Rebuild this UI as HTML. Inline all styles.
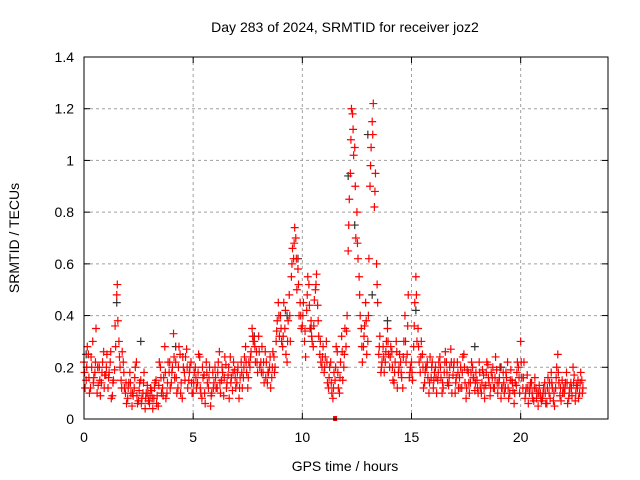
<!DOCTYPE html>
<html><head><meta charset="utf-8"><style>
body{margin:0;background:#fff;}
svg{display:block;font-family:"Liberation Sans",sans-serif;}
</style></head><body>
<svg id="chart" width="640" height="480" viewBox="0 0 640 480">
<rect width="640" height="480" fill="#fff"/>
<text x="345" y="32" font-size="14" text-anchor="middle">Day 283 of 2024, SRMTID for receiver joz2</text>
<text transform="translate(19,238) rotate(-90)" font-size="14" text-anchor="middle">SRMTID / TECUs</text>
<text x="345" y="471" font-size="14" text-anchor="middle">GPS time / hours</text>
<g id="grid"></g><g id="ticks"></g><g id="marks"></g>
<rect x="84" y="57" width="524" height="362" fill="none" stroke="#000" stroke-width="1"/>
</svg>
<script>
const xTicks=[0,5,10,15,20];
const yTicks=[0,0.2,0.4,0.6,0.8,1,1.2,1.4];
const yTickLabels=["0","0.2","0.4","0.6","0.8","1","1.2","1.4"];
const startHour=0, stepHour=0.1;
const seriesA=[0.22,0.15,0.25,0.12,0.30,0.18,0.10,0.20,0.14,0.26,
0.17,0.12,0.22,0.09,0.19,0.48,0.30,0.15,0.22,0.10,
0.08,0.18,0.05,0.12,0.22,0.07,0.15,0.10,0.04,0.13,
0.06,0.11,0.08,0.15,0.05,0.20,0.12,0.28,0.10,0.18,
0.14,0.33,0.22,0.12,0.25,0.08,0.18,0.27,0.15,0.22,
0.10,0.20,0.14,0.24,0.08,0.17,0.22,0.12,0.05,0.18,
0.20,0.12,0.26,0.15,0.09,0.21,0.17,0.24,0.11,0.19,
0.14,0.08,0.22,0.16,0.28,0.12,0.20,0.35,0.30,0.26,
0.32,0.22,0.18,0.26,0.14,0.20,0.16,0.24,0.30,0.45,
0.40,0.28,0.35,0.22,0.48,0.55,0.62,0.70,0.58,0.45,
0.36,0.30,0.42,0.52,0.38,0.28,0.50,0.44,0.25,0.20,
0.18,0.30,0.12,0.22,0.08,0.15,0.26,0.10,0.32,0.20,
0.28,0.65,0.95,1.18,1.05,0.80,0.55,0.35,0.28,0.45,
0.30,0.90,1.15,0.82,0.60,0.25,0.18,0.28,0.22,0.35,
0.20,0.26,0.14,0.30,0.18,0.22,0.12,0.40,0.25,0.16,
0.22,0.28,0.55,0.35,0.18,0.25,0.14,0.20,0.10,0.16,
0.12,0.20,0.15,0.24,0.10,0.18,0.22,0.13,0.27,0.17,
0.10,0.22,0.16,0.12,0.25,0.08,0.18,0.14,0.20,0.11,
0.15,0.22,0.10,0.17,0.13,0.21,0.09,0.16,0.12,0.19,
0.14,0.08,0.18,0.12,0.22,0.10,0.15,0.06,0.13,0.20,
0.30,0.12,0.08,0.17,0.10,0.14,0.07,0.12,0.05,0.10,
0.08,0.14,0.06,0.10,0.18,0.07,0.12,0.25,0.09,0.15,
0.10,0.18,0.08,0.14,0.20,0.07,0.12,0.10,0.15];
const seriesB=[0.12,0.28,0.10,0.20,0.16,0.35,0.13,0.09,0.22,0.17,
0.25,0.18,0.08,0.15,0.28,0.38,0.20,0.26,0.12,0.06,
0.14,0.10,0.09,0.20,0.06,0.14,0.08,0.18,0.10,0.07,
0.12,0.04,0.14,0.09,0.22,0.10,0.16,0.08,0.22,0.12,
0.20,0.16,0.10,0.28,0.14,0.20,0.24,0.12,0.20,0.10,
0.18,0.12,0.25,0.10,0.16,0.06,0.14,0.20,0.10,0.14,
0.12,0.22,0.10,0.18,0.24,0.14,0.08,0.16,0.22,0.12,
0.20,0.16,0.12,0.24,0.18,0.22,0.26,0.30,0.22,0.18,
0.20,0.28,0.14,0.22,0.18,0.12,0.26,0.20,0.38,0.32,
0.30,0.45,0.25,0.38,0.30,0.66,0.74,0.50,0.40,0.35,
0.45,0.24,0.55,0.35,0.30,0.46,0.56,0.32,0.22,0.28,
0.24,0.14,0.20,0.10,0.18,0.28,0.12,0.22,0.15,0.35,
0.40,0.85,1.20,1.02,0.70,0.62,0.40,0.22,0.36,0.25,
0.62,1.05,1.22,0.95,0.45,0.32,0.22,0.18,0.30,0.25,
0.28,0.15,0.22,0.12,0.25,0.16,0.30,0.22,0.48,0.20,
0.15,0.45,0.30,0.22,0.30,0.12,0.20,0.16,0.24,0.22,
0.18,0.10,0.22,0.16,0.12,0.26,0.14,0.20,0.10,0.22,
0.16,0.12,0.20,0.24,0.14,0.19,0.10,0.22,0.16,0.18,
0.10,0.12,0.19,0.08,0.22,0.14,0.18,0.12,0.24,0.10,
0.20,0.12,0.10,0.16,0.08,0.19,0.11,0.14,0.22,0.10,
0.16,0.22,0.12,0.06,0.14,0.08,0.16,0.10,0.13,0.07,
0.12,0.06,0.16,0.08,0.12,0.05,0.20,0.14,0.07,0.12,
0.14,0.06,0.12,0.09,0.17,0.13,0.08,0.18,0.12];
const seriesC=[0.18,0.20,0.16,0.24,0.14,0.22,0.20,0.15,0.18,0.12,
0.20,0.16,0.26,0.14,0.36,0.52,0.24,0.12,0.18,0.14,
0.12,0.14,0.10,0.16,0.09,0.11,0.06,0.14,0.08,0.10,
0.09,0.08,0.12,0.06,0.13,0.16,0.09,0.18,0.14,0.22,
0.18,0.24,0.16,0.20,0.10,0.24,0.15,0.20,0.18,0.14,
0.14,0.16,0.18,0.12,0.20,0.10,0.18,0.16,0.09,0.12,
0.16,0.18,0.14,0.20,0.16,0.12,0.20,0.14,0.18,0.16,
0.18,0.12,0.18,0.20,0.22,0.16,0.24,0.32,0.28,0.22,
0.26,0.18,0.22,0.16,0.18,0.24,0.20,0.18,0.34,0.40,
0.35,0.32,0.42,0.30,0.40,0.60,0.68,0.62,0.52,0.40,
0.40,0.34,0.48,0.44,0.32,0.36,0.52,0.38,0.30,0.24,
0.20,0.22,0.16,0.14,0.12,0.20,0.18,0.16,0.26,0.25,
0.34,0.75,1.08,1.12,0.90,0.68,0.48,0.28,0.32,0.38,
0.40,0.98,1.10,0.88,0.52,0.28,0.20,0.24,0.26,0.30,
0.24,0.20,0.18,0.26,0.20,0.18,0.24,0.30,0.36,0.18,
0.18,0.36,0.48,0.28,0.24,0.20,0.18,0.22,0.14,0.20,
0.15,0.16,0.18,0.20,0.14,0.22,0.18,0.16,0.22,0.20,
0.14,0.18,0.12,0.18,0.20,0.12,0.14,0.18,0.16,0.14,
0.12,0.18,0.14,0.12,0.18,0.16,0.12,0.20,0.16,0.14,
0.16,0.12,0.14,0.18,0.12,0.15,0.14,0.10,0.18,0.16,
0.22,0.16,0.10,0.12,0.12,0.10,0.12,0.08,0.10,0.08,
0.10,0.10,0.12,0.14,0.14,0.10,0.16,0.18,0.12,0.10,
0.12,0.14,0.10,0.12,0.14,0.10,0.15,0.14,0.10];
const blackHours=[0.1,1.5,2.6,4.2,7.8,9.3,9.8,10.4,12.1,12.4,13.0,13.2,13.9,15.2,17.9,19.1];
const blackValues=[0.25,0.45,0.30,0.28,0.32,0.40,0.62,0.35,0.94,0.75,1.10,0.48,0.38,0.42,0.28,0.20];
const squareHours=[11.5];
const squareValues=[0];

const X0=84,X1=608,Y0=419,Y1=57,XMAX=24,YMAX=1.4;
const xs=h=>X0+(h/XMAX)*(X1-X0);
const ys=v=>Y0-(v/YMAX)*(Y0-Y1);
const NS="http://www.w3.org/2000/svg";
function mk(tag,attrs,parent){const e=document.createElementNS(NS,tag);for(const k in attrs)e.setAttribute(k,attrs[k]);parent.appendChild(e);return e;}
const grid=document.getElementById('grid'),ticks=document.getElementById('ticks'),marks=document.getElementById('marks');
yTicks.forEach((v,i)=>{
  const y=ys(v);
  if(i>0&&i<yTicks.length-1){const g=mk('line',{x1:X0,x2:X1,y1:y,y2:y,stroke:'#a0a0a0','stroke-dasharray':'3,3'},grid);
  
  }
  mk('line',{x1:X0,x2:X0+6,y1:y,y2:y,stroke:'#000'},ticks);
  mk('line',{x1:X1,x2:X1-6,y1:y,y2:y,stroke:'#000'},ticks);
  const t=mk('text',{x:X0-10,y:y+5,'font-size':14,'text-anchor':'end'},ticks);t.textContent=yTickLabels[i];
  
  
});
xTicks.forEach(h=>{
  const x=xs(h);
  if(h>0){const g=mk('line',{x1:x,x2:x,y1:Y0,y2:Y1,stroke:'#a0a0a0','stroke-dasharray':'3,3'},grid);
  
  }
  mk('line',{x1:x,x2:x,y1:Y0,y2:Y0-6,stroke:'#000'},ticks);
  mk('line',{x1:x,x2:x,y1:Y1,y2:Y1+6,stroke:'#000'},ticks);
  const t=mk('text',{x:x,y:Y0+23,'font-size':14,'text-anchor':'middle'},ticks);t.textContent=String(h);
  
  
});
function plus(h,v,color,name){
  const x=xs(h),y=ys(v);
  const p=mk('path',{d:`M${x-4} ${y}H${x+4}M${x} ${y-4}V${y+4}`,stroke:color,'stroke-width':1.2,fill:'none'},marks);
  
  
}
blackHours.forEach((h,i)=>plus(h,blackValues[i],'#333','gray-point'));
seriesA.forEach((v,i)=>plus(startHour+i*stepHour,v,'#ff0000','srmtid-point'));
seriesB.forEach((v,i)=>plus(startHour+i*stepHour+stepHour/2,v,'#ff0000','srmtid-point'));
seriesC.forEach((v,i)=>plus(startHour+i*stepHour+stepHour/4,v,'#ff0000','srmtid-point'));
squareHours.forEach((h,i)=>{
  const r=mk('rect',{x:xs(h)-2,y:ys(squareValues[i])-3,width:4,height:5,fill:'#ff0000'},marks);
  
  
});
</script>
</body></html>
